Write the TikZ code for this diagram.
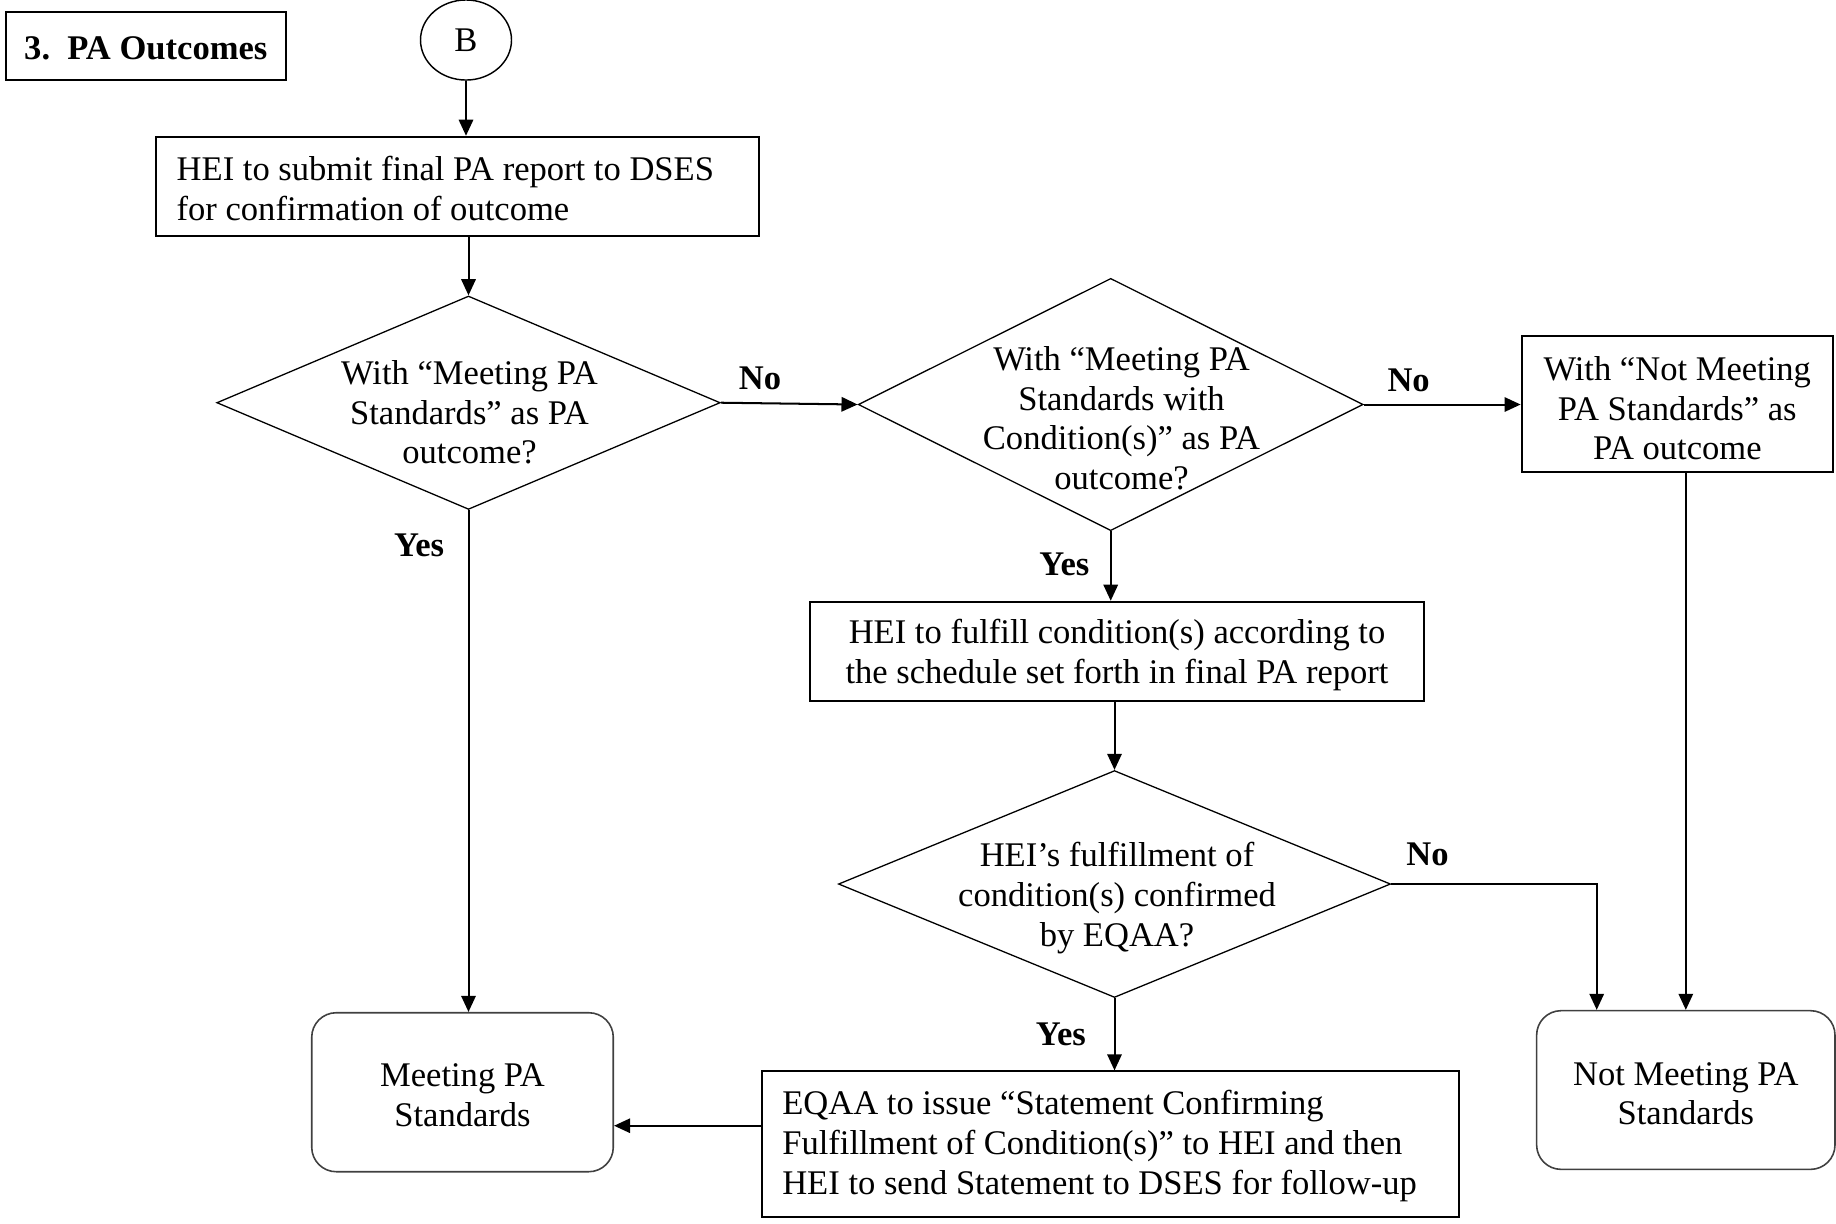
\documentclass[tikz,border=0pt]{standalone}
\usepackage{fontspec}
\setmainfont{Liberation Serif}
\usetikzlibrary{arrows.meta,shapes.geometric}
\newcommand{\liftby}[1]{\rule{0pt}{#1}}
\begin{document}
\begin{tikzpicture}[x=0.34722pt,y=-0.34722pt,
  font=\fontsize{12}{13.8}\selectfont,
  box/.style={draw,line width=0.7pt,rectangle,inner sep=0pt},
  dia/.style={draw,diamond,line width=0.45pt,inner sep=0pt},
  term/.style={draw=black!75,line width=0.55pt,rounded corners=8.5pt,rectangle,inner sep=0pt,align=center},
  arr/.style={line width=0.7pt,-{Triangle[length=5.6pt,width=5pt]}},
  lbl/.style={font=\fontsize{12}{13.8}\selectfont\bfseries,inner sep=0pt},
  txt/.style={align=center,inner sep=0pt}]
\useasboundingbox (0,0) rectangle (1836,1223);

\node[box,minimum width=97.15pt,minimum height=23.58pt,font=\fontsize{12}{13.8}\selectfont\bfseries] (title) at (145.8,45.7) {\liftby{9.6pt}3.\ \ PA Outcomes};

\node[ellipse,draw,line width=0.5pt,minimum width=31.6pt,minimum height=27.8pt,inner sep=0pt] (B) at (466,40) {B};

\node[box,minimum width=209.4pt,minimum height=34.4pt,text width=194.8pt,align=flush left,inner xsep=7.3pt] (box1) at (457.2,186.3) {\liftby{9.8pt}HEI to submit final PA report to DSES\\for confirmation of outcome};

\node[dia,minimum width=174.8pt,minimum height=74.1pt] (d1) at (468.5,402.7) {};
\node[txt] (d1t) at (469.5,412.3) {With “Meeting PA\\Standards” as PA\\outcome?};

\node[dia,minimum width=175.3pt,minimum height=87.6pt] (d2) at (1110.7,404.5) {};
\node[txt] (d2t) at (1121.5,418.3) {With “Meeting PA\\Standards with\\Condition(s)” as PA\\outcome?};

\node[box,minimum width=108.1pt,minimum height=47.1pt,align=center] (nmbox) at (1677.3,403.9) {\liftby{11.4pt}With “Not Meeting\\PA Standards” as\\PA outcome};

\node[box,minimum width=213pt,minimum height=34.6pt,align=center] (box2) at (1117,651.6) {\liftby{11pt}HEI to fulfill condition(s) according to\\the schedule set forth in final PA report};

\node[dia,minimum width=191.7pt,minimum height=78.8pt] (d3) at (1114.5,884) {};
\node[txt] (d3t) at (1117,898) {HEI’s fulfillment of\\condition(s) confirmed\\by EQAA?};

\node[box,minimum width=241.9pt,minimum height=50.4pt,text width=228pt,align=flush left,inner xsep=6.95pt] (box3) at (1110.6,1144) {\liftby{9.8pt}EQAA to issue “Statement Confirming\\Fulfillment of Condition(s)” to HEI and then\\HEI to send Statement to DSES for follow-up};

\node[term,minimum width=104.7pt,minimum height=55.2pt] (meet) at (462.5,1092.2) {\liftby{9.8pt}Meeting PA\\Standards};
\node[term,minimum width=103.6pt,minimum height=55.1pt] (nmt) at (1685.8,1090) {\liftby{10.6pt}Not Meeting PA\\Standards};

\node[lbl] (no1) at (760,378) {No};
\node[lbl] (no2) at (1408.6,380.5) {No};
\node[lbl] (yes1) at (419.2,545.6) {Yes};
\node[lbl] (yes2) at (1064.3,564.4) {Yes};
\node[lbl] (no3) at (1427.4,854.8) {No};
\node[lbl] (yes3) at (1060.8,1033.9) {Yes};

\draw[arr] (B.south) -- (B.south |- box1.north);
\draw[arr] (d1.north |- box1.south) -- (d1.north);
\draw[arr] (d1.south) -- (d1.south |- meet.north);
\draw[arr] (d1.east) -- (d2.west);
\draw[arr] (d2.east) -- (d2.east -| nmbox.west);
\draw[arr] (d2.south) -- (d2.south |- box2.north);
\draw[arr] (nmbox.south -| nmt.north) -- (nmt.north);
\draw[arr] (d3.north |- box2.south) -- (d3.north);
\draw[arr] (d3.south) -- (d3.south |- box3.north);
\coordinate (c3) at (1596.7,884);
\draw[arr] (d3.east) -- (c3) -- (c3 |- nmt.north);
\coordinate (c4) at (700,1125.7);
\draw[arr] (box3.west |- c4) -- (meet.east |- c4);
\end{tikzpicture}
\end{document}
